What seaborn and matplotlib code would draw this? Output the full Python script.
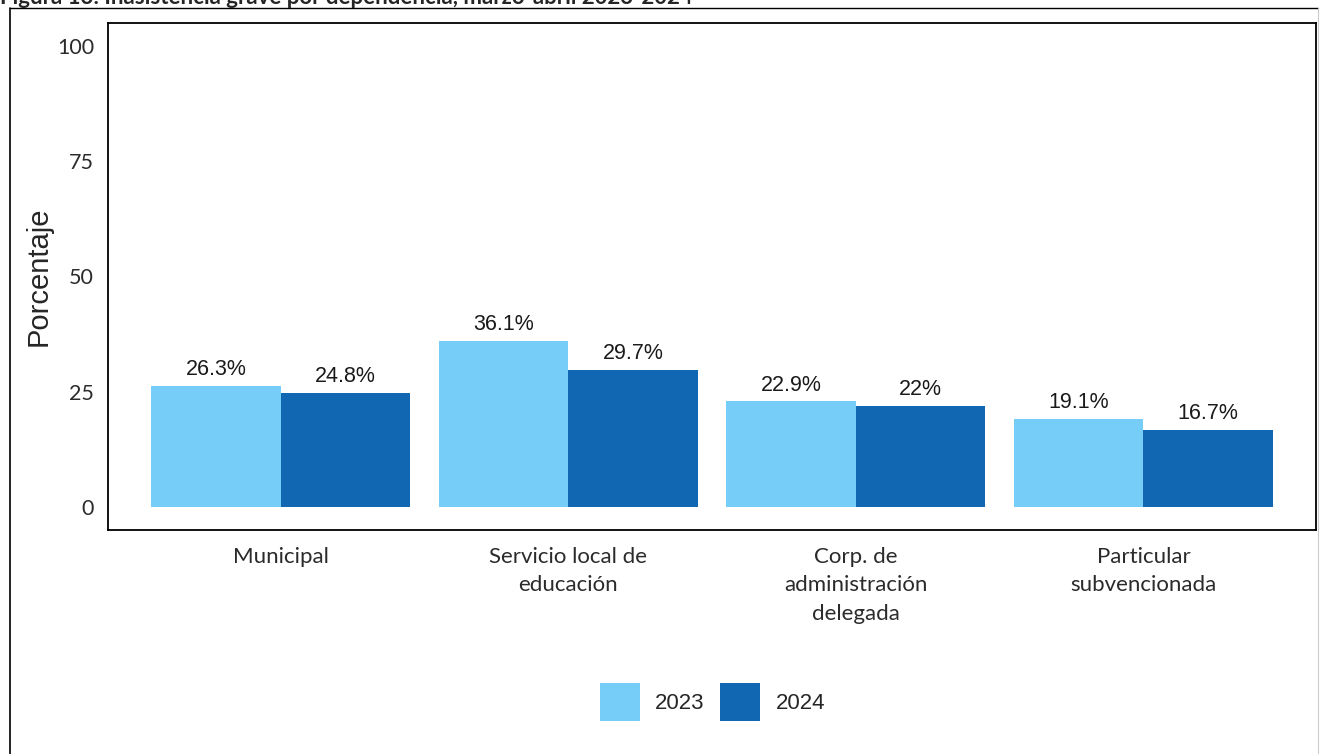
import matplotlib
matplotlib.use("Agg")
import matplotlib.pyplot as plt
import seaborn as sns
import pandas as pd
from matplotlib.lines import Line2D

categories = ["Municipal", "Servicio local de\neducación", "Corp. de\nadministración\ndelegada",
              "Particular\nsubvencionada"]
years = ["2023", "2024"]
values_2023 = [26.3, 36.1, 22.9, 19.1]
values_2024 = [24.8, 29.7, 22.0, 16.7]
yticks = [0, 25, 50, 75, 100]
colors = ["#76CDF8", "#1167B1"]
title = "Figura 13: Inasistencia grave por dependencia, marzo-abril 2023-2024"

df = pd.DataFrame({
    "dependencia": categories * 2,
    "anio": [years[0]] * 4 + [years[1]] * 4,
    "valor": values_2023 + values_2024,
})

sns.set_style("white")
plt.rcParams["font.family"] = ["Liberation Sans", "DejaVu Sans"]

fig = plt.figure(figsize=(13.27, 7.54), dpi=100)
ax = fig.add_axes([0.0814, 0.2971, 0.9103, 0.6724])

sns.barplot(data=df, x="dependencia", y="valor", hue="anio", order=categories,
            hue_order=years, palette=colors, width=0.9, saturation=1,
            edgecolor="none", linewidth=0, ax=ax)

for cont in ax.containers:
    ax.bar_label(cont, labels=[f"{b.get_height():g}%" for b in cont],
                 padding=4, fontsize=15.5, color="#1a1a1a")

ax.set_ylim(-5, 105)
ax.set_xlim(-0.6, len(categories) - 0.4)
ax.set_yticks(yticks)
ax.set_yticklabels([str(t) for t in yticks], family=["Lato", "DejaVu Sans"],
                   fontsize=15.5, color="#2b2b2b")
ax.set_xticks(range(len(categories)))
ax.set_xticklabels(categories, family=["Lato", "DejaVu Sans"], fontsize=16,
                   color="#2b2b2b", linespacing=1.55)
ax.tick_params(axis="both", length=0)
ax.tick_params(axis="y", pad=10)
ax.tick_params(axis="x", pad=12)
ax.set_xlabel("")
ax.set_ylabel("Porcentaje", fontsize=21, labelpad=3)
for s in ax.spines.values():
    s.set_visible(True)
    s.set_color("black")
    s.set_linewidth(1.3)

handles, labels = ax.get_legend_handles_labels()
ax.legend(handles, labels, loc="center", bbox_to_anchor=(0.537, 0.069),
          bbox_transform=fig.transFigure, ncol=2, frameon=False, fontsize=16,
          handlelength=1.8, handleheight=2.2, handletextpad=0.7,
          columnspacing=0.7)

# outer frame and the caption, cut at the top edge as in the source
fig.add_artist(Line2D([10 / 1327, 10 / 1327], [0, 1 - 8 / 754], color="black",
                      lw=1.2, transform=fig.transFigure))
fig.add_artist(Line2D([10 / 1327, 1318 / 1327], [1 - 8 / 754, 1 - 8 / 754],
                      color="black", lw=1.0, transform=fig.transFigure))
fig.add_artist(Line2D([1318 / 1327, 1318 / 1327], [0, 1 - 8 / 754], color="#cccccc",
                      lw=0.8, transform=fig.transFigure))
fig.text(0.0, 1 - 4 / 754, title, ha="left", va="baseline", fontsize=16,
         fontweight="bold", family=["Lato", "DejaVu Sans"])

fig.savefig("out.png", dpi=100, facecolor="white")
